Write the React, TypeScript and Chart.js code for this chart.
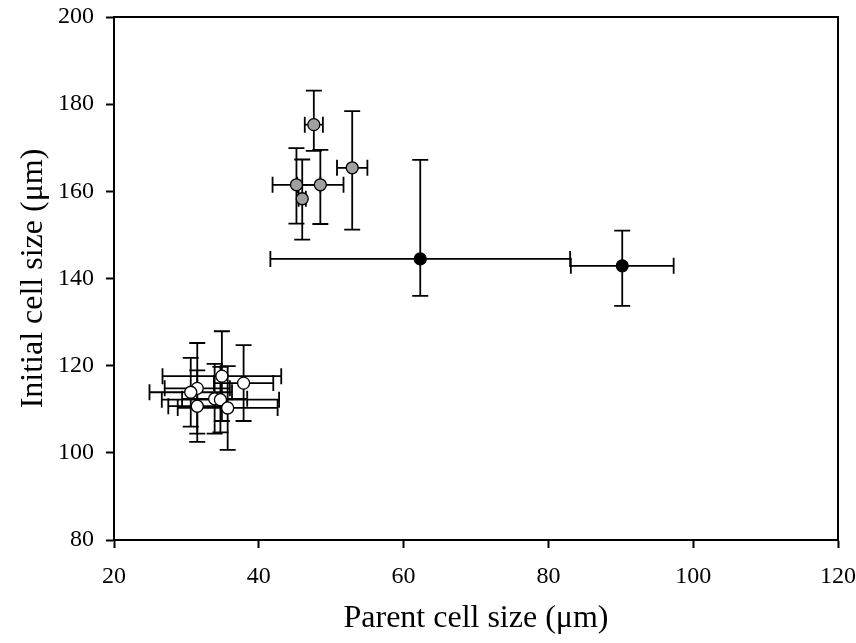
import React, { useEffect, useRef } from "react";
import { Chart, registerables } from "chart.js";

Chart.register(...registerables);

// White (open) circles
const parentWhite = [34.9, 37.9, 31.5, 30.6, 33.9, 34.7, 31.5, 35.7];
const parentWhiteErr = [8.2, 4.1, 4.5, 5.7, 4.5, 8.1, 4.0, 6.9];
const initialWhite = [117.6, 116.0, 114.8, 113.9, 112.4, 112.2, 110.7, 110.3];
const initialWhiteErrUp = [10.3, 8.7, 10.4, 7.9, 8.0, 7.5, 8.2, 9.6];
const initialWhiteErrDown = [10.3, 8.7, 10.4, 7.9, 8.0, 7.5, 8.2, 9.6];

// Gray circles
const parentGray = [47.6, 52.9, 45.2, 48.5, 46.0];
const parentGrayErr = [1.25, 2.1, 3.3, 3.2, 0.5];
const initialGray = [175.3, 165.4, 161.5, 161.5, 158.3];
const initialGrayErrUp = [7.8, 13.0, 8.4, 8.0, 9.0];
const initialGrayErrDown = [6.0, 14.2, 8.9, 9.0, 9.4];

// Black circles
const parentBlack = [62.3, 90.2];
const parentBlackErr = [20.7, 7.1];
const initialBlack = [144.5, 142.9];
const initialBlackErrUp = [22.7, 8.1];
const initialBlackErrDown = [8.5, 9.2];

const xTicks = [20, 40, 60, 80, 100, 120];
const yTicks = [80, 100, 120, 140, 160, 180, 200];

type Pt = { x: number; y: number; xe: number; yu: number; yd: number };

function build(xs: number[], xe: number[], ys: number[], yu: number[], yd: number[]): Pt[] {
  return xs.map((x, i) => ({ x, y: ys[i], xe: xe[i], yu: yu[i], yd: yd[i] }));
}

const errorBarPlugin = {
  id: "errorBars",
  beforeDatasetsDraw(chart: any) {
    const { ctx, scales } = chart;
    const xs = scales.x;
    const ys = scales.y;
    const cap = 8;
    ctx.save();
    ctx.strokeStyle = "#000";
    ctx.lineWidth = 1.8;
    chart.data.datasets.forEach((ds: any) => {
      ds.data.forEach((p: Pt) => {
        const px = xs.getPixelForValue(p.x);
        const py = ys.getPixelForValue(p.y);
        const x0 = xs.getPixelForValue(p.x - p.xe);
        const x1 = xs.getPixelForValue(p.x + p.xe);
        const y0 = ys.getPixelForValue(p.y - p.yd);
        const y1 = ys.getPixelForValue(p.y + p.yu);
        ctx.beginPath();
        ctx.moveTo(x0, py);
        ctx.lineTo(x1, py);
        ctx.moveTo(x0, py - cap);
        ctx.lineTo(x0, py + cap);
        ctx.moveTo(x1, py - cap);
        ctx.lineTo(x1, py + cap);
        ctx.moveTo(px, y0);
        ctx.lineTo(px, y1);
        ctx.moveTo(px - cap, y0);
        ctx.lineTo(px + cap, y0);
        ctx.moveTo(px - cap, y1);
        ctx.lineTo(px + cap, y1);
        ctx.stroke();
      });
    });
    ctx.restore();
  },
};

const framePlugin = {
  id: "frame",
  afterDraw(chart: any) {
    const { ctx, chartArea } = chart;
    ctx.save();
    ctx.strokeStyle = "#000";
    ctx.lineWidth = 2;
    ctx.strokeRect(chartArea.left, chartArea.top, chartArea.right - chartArea.left, chartArea.bottom - chartArea.top);
    ctx.restore();
  },
};

export default function App() {
  const ref = useRef<HTMLCanvasElement | null>(null);

  useEffect(() => {
    if (!ref.current) return;
    const font = "'Liberation Serif', 'Times New Roman', serif";
    const chart = new Chart(ref.current, {
      type: "scatter",
      data: {
        datasets: [
          {
            label: "white",
            data: build(parentWhite, parentWhiteErr, initialWhite, initialWhiteErrUp, initialWhiteErrDown) as any,
            backgroundColor: "#ffffff",
            borderColor: "#000000",
            borderWidth: 1.3,
            pointRadius: 6,
          },
          {
            label: "gray",
            data: build(parentGray, parentGrayErr, initialGray, initialGrayErrUp, initialGrayErrDown) as any,
            backgroundColor: "#a0a0a0",
            borderColor: "#000000",
            borderWidth: 1.3,
            pointRadius: 6,
          },
          {
            label: "black",
            data: build(parentBlack, parentBlackErr, initialBlack, initialBlackErrUp, initialBlackErrDown) as any,
            backgroundColor: "#000000",
            borderColor: "#000000",
            borderWidth: 1.3,
            pointRadius: 6,
          },
        ],
      },
      options: {
        animation: false,
        responsive: false,
        layout: { padding: { left: 0, top: 17, right: 18, bottom: 0 } },
        plugins: {
          legend: { display: false },
          tooltip: { enabled: false },
        },
        scales: {
          x: {
            type: "linear",
            min: 20,
            max: 120,
            afterBuildTicks: (scale: any) => {
              scale.ticks = xTicks.map((v) => ({ value: v }));
            },
            afterFit: (scale: any) => {
              scale.height = 103;
              scale.paddingLeft = 0;
              scale.paddingRight = 0;
            },
            grid: {
              display: true,
              drawOnChartArea: false,
              drawTicks: true,
              tickLength: 8,
              tickColor: "#000",
              tickWidth: 2,
            },
            border: { display: true, color: "#000", width: 2 },
            ticks: {
              color: "#000",
              font: { family: font, size: 24 },
              padding: 14,
              maxRotation: 0,
            },
            title: {
              display: true,
              text: "Parent cell size (μm)",
              color: "#000",
              font: { family: font, size: 32 },
              padding: { top: 0, bottom: 5 },
            },
          },
          y: {
            type: "linear",
            min: 80,
            max: 200,
            afterBuildTicks: (scale: any) => {
              scale.ticks = yTicks.map((v) => ({ value: v }));
            },
            afterFit: (scale: any) => {
              scale.width = 114;
              scale.paddingTop = 0;
              scale.paddingBottom = 0;
            },
            grid: {
              display: true,
              drawOnChartArea: false,
              drawTicks: true,
              tickLength: 8,
              tickColor: "#000",
              tickWidth: 2,
            },
            border: { display: true, color: "#000", width: 2 },
            ticks: {
              color: "#000",
              font: { family: font, size: 24 },
              padding: 12,
            },
            title: {
              display: true,
              text: "Initial cell size (μm)",
              color: "#000",
              font: { family: font, size: 32 },
              padding: { top: 14, bottom: 0 },
            },
          },
        },
      },
      plugins: [errorBarPlugin, framePlugin],
    });
    return () => chart.destroy();
  }, []);

  return (
    <div style={{ position: "fixed", left: 0, top: 0, width: 856, height: 643, background: "#fff" }}>
      <canvas ref={ref} width={856} height={643} style={{ width: 856, height: 643, display: "block" }} />
    </div>
  );
}
